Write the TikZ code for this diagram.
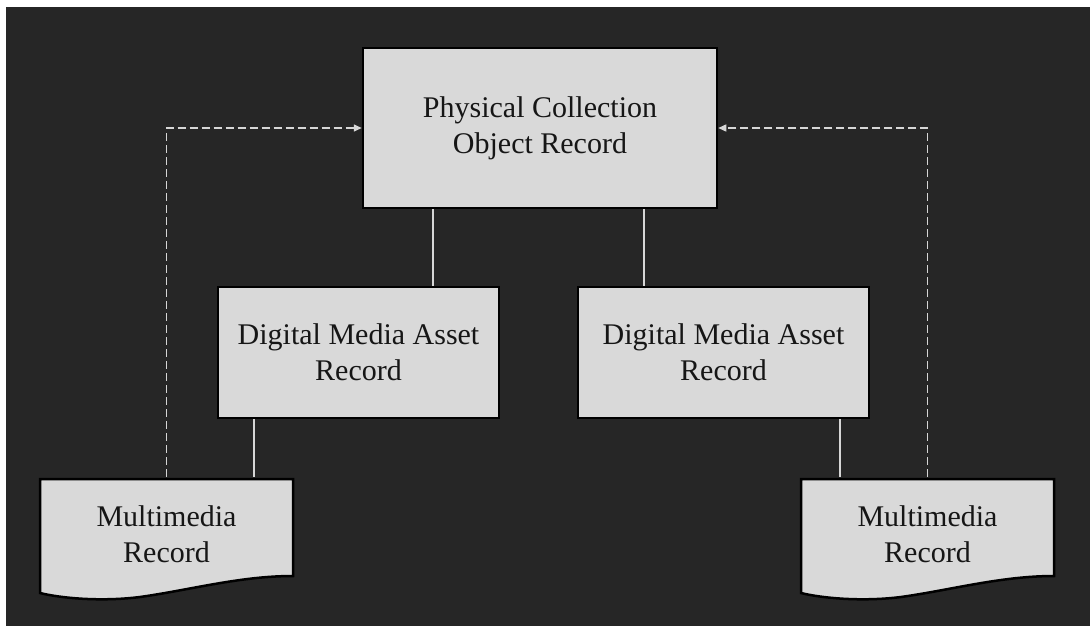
\documentclass[tikz,border=0pt]{standalone}
\usepackage{fontspec}
\setmainfont{Liberation Serif}
\usetikzlibrary{arrows.meta,backgrounds}
\definecolor{bgdark}{HTML}{262626}
\definecolor{boxfill}{HTML}{D9D9D9}
\definecolor{linkgray}{HTML}{D6D6D6}
\definecolor{inkdark}{HTML}{161616}
\begin{document}
\begin{tikzpicture}[x=1pt,y=-1pt,
  labelfont/.style={font=\fontsize{30}{36}\selectfont, text=inkdark, align=center},
  recbox/.style={labelfont, draw=black, line width=2.5pt, fill=boxfill, inner sep=0pt},
  docnode/.style={labelfont, inner sep=0pt, minimum width=253pt, minimum height=114pt},
  docshape/.style={draw=black, line width=2.5pt, fill=boxfill, line join=miter},
  link/.style={draw=linkgray, line width=1.3pt},
  backlink/.style={draw=linkgray, line width=1.5pt, dash pattern=on 8pt off 4pt,
    -{Triangle[length=8pt,width=7pt]}}]
\useasboundingbox (0,0) rectangle (1090,626);

% canvas
\begin{scope}[on background layer]
  \fill[white] (0,0) rectangle (1090,626);
  \fill[bgdark] (6,7) rectangle (1090,626);
\end{scope}

% record boxes
\node[recbox, minimum width=354pt, minimum height=160pt] (top) at (540,128)
  {Physical Collection\\Object Record};
\node[recbox, minimum width=281pt, minimum height=131pt] (dmaL) at (358.5,352.5)
  {Digital Media Asset\\Record};
\node[recbox, minimum width=291pt, minimum height=131pt] (dmaR) at (723.5,352.5)
  {Digital Media Asset\\Record};

% multimedia documents (wavy bottom edge)
\node[docnode] (mmL) at (166.5,534) {Multimedia\\Record};
\node[docnode] (mmR) at (927.5,534) {Multimedia\\Record};
\begin{scope}[on background layer]
  \foreach \d in {mmL,mmR}{
    \begin{scope}[shift={(\d.center)}]
      \path[docshape] (-126.5,-55) -- (126.5,-55) -- (126.5,42)
        .. controls (73.5,42) and (23.5,56) .. (-26.5,63)
        .. controls (-66.5,68) and (-106.5,64) .. (-126.5,59) -- cycle;
    \end{scope}
  }
\end{scope}

% x positions of the vertical links
\coordinate (xa) at (433,0);
\coordinate (xb) at (644,0);
\coordinate (xc) at (254,0);
\coordinate (xd) at (840,0);

% solid links
\draw[link] (xa |- top.south) -- (xa |- dmaL.north);
\draw[link] (xb |- top.south) -- (xb |- dmaR.north);
\draw[link] (xc |- dmaL.south) -- (xc |- mmL.north);
\draw[link] (xd |- dmaR.south) -- (xd |- mmR.north);

% dashed back-references
\draw[backlink] (mmL.north) |- (top.west);
\draw[backlink] (mmR.north) |- (top.east);
\end{tikzpicture}
\end{document}
